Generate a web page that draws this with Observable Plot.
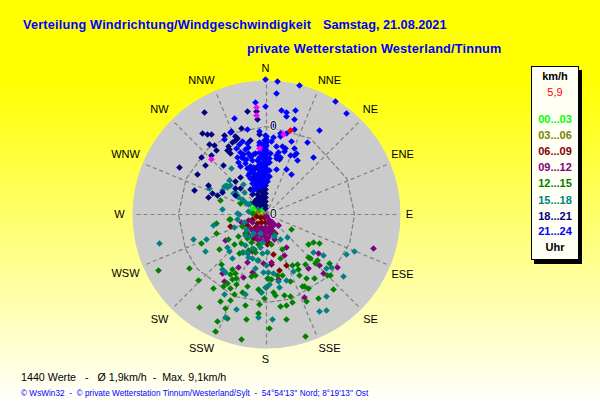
<!DOCTYPE html>
<html><head><meta charset="utf-8">
<script src="https://cdn.jsdelivr.net/npm/d3@7"></script>
<script src="https://cdn.jsdelivr.net/npm/@observablehq/plot@0.6"></script>
<style>
html,body{margin:0;padding:0}
body{width:600px;height:415px;position:relative;overflow:hidden;font-family:"Liberation Sans",Arial,sans-serif;
background:linear-gradient(#ffff00 0,#ffff00 80px,#ffffff 405px)}
svg{position:absolute;left:0;top:0;background:transparent!important}
.t{position:absolute;white-space:pre;line-height:1}
.title{color:#0000ff;font-weight:bold;font-size:12.7px;letter-spacing:.2px}
#legend{position:absolute;left:531px;top:66px;width:46px;height:192px;background:#fffff4;border:1px solid #000;box-shadow:3px 4px 0 #000}
#legend div{position:absolute;left:0;width:46px;text-align:center;font-size:11px;font-weight:bold;line-height:1}
</style></head><body>
<script>
// Wind readings as [eastward, northward] components in picture units (14.7 units = 1 km/h)
const h00_03=[[-13,6],[-6,4],[-3,5],[-9,1],[-10,7],[-4,10],[-7,8],[-15,3]];
const h03_06=[[-3,-1],[-8,3],[-12,1],[-5,-4]];
const h06_09=[[-36,-12],[-21,-19],[-14,-6],[1,-30],[-9,-9],[-19,-11],[20,-51],[13,-56],[7,-40],[5,-50],[2,-16],[-14,-5],[-10,-2],[-6,-3],[-5,-8],[-2,-3],[-11,-13],[-1,-8],[3,-9],[-7,-14],[-3,-16],[-13,-24],[2,-28],[-5,-20],[0,-14]];
const h09_12=[[-41,-26],[-42,-67],[-44,-59],[-28,-53],[-23,-63],[-19,-48],[-14,-58],[-3,-49],[-14,-37],[-25,-8],[-19,-19],[-11,-18],[107,-34],[12,-11],[20,-33],[18,-41],[52,-39],[53,-51],[42,-54],[57,-59],[71,-53],[38,-83],[5,-48],[12,-65],[7,-9],[4,-6],
[0,-2],[3,-4],[-14,-8],[2,-7],[5,-8],[4,-12],[7,-11],[-9,-14],[-5,-13],[-1,-13],[3,-15],[6,-16],[-13,-17],[-8,-17],[-4,-17],[0,-18],[4,-19],[-11,-21],[-6,-21],[-2,-22],[2,-23],[-9,-25],[-5,-26],[0,-26],[12,-11],[9,-19],[-16,-14],[-18,-6],[8,-25]];
const h12_15=[[-46,14],[-36,-5],[-26,11],[-13,12],[-14,1],[-50,-9],[-50,-19],[-37,-5],[-65,-29],[-47,-35],[-38,-25],[-32,-30],[-108,-56],[-77,-54],[-68,-66],[-45,-50],[-34,-55],[-31,-59],[-36,-60],[-34,-65],[-30,-64],[-53,-74],[-43,-72],[-39,-69],[-36,-74],[-30,-70],[-32,-80],[-24,-78],[-19,-72],[-8,-75],[-2,-84],[-46,-87],[-36,-86],[-67,-93],[-41,-94],[-21,-91],[-7,-90],[-8,-99],[-49,-107],[-39,-104],[-20,-105],[-51,-117],[-25,-125],[3,-114],[-27,-39],[-24,-38],[-18,-36],[-11,-38],[-8,-46],[-15,-62],[-11,-61],[1,-64],[0,-73],[-19,-24],[-25,-29],
[25,-15],[42,-30],[47,-28],[53,-29],[16,-35],[42,-43],[44,-44],[14,-44],[26,-51],[31,-50],[39,-50],[63,-49],[51,-46],[49,-49],[32,-55],[33,-61],[40,-64],[48,-64],[61,-61],[64,-61],[24,-67],[2,-64],[5,-65],[11,-61],[16,-61],[36,-72],[38,-72],[42,-74],[67,-75],[7,-78],[9,-81],[18,-81],[24,-82],[40,-87],[52,-84],[26,-88],[20,-91],[14,-92],[20,-105],[39,-122],[-5,-78],
[-20,-18],[-24,-12],[-15,-28],[-8,-30],[5,-30],[-12,-35],[-28,-22],[8,-20]];
const h15_18=[[-35,46],[-37,34],[-40,29],[-44,24],[-36,29],[-31,22],[-23,30],[-57,26],[-44,5],[-29,1],[-33,21],[-28,17],[-21,12],[-22,22],[-16,11],[-8,7],[-4,17],[-39,27],[-42,28],[-29,19],[-24,15],[-18,10],
[-53,-11],[-32,-13],[-107,-29],[-73,-25],[-60,-25],[-61,-37],[-39,-33],[-37,-37],[-34,-44],[-44,-55],[-41,-58],[-42,-80],[-30,-95],[-41,-103],[-8,-103],[-21,-80],[-5,-78],[-23,-38],[-19,-39],[-14,-44],[-9,-46],[-4,-39],[1,-38],[-6,-33],[-14,-34],[-18,-43],[-3,-58],[0,-51],[-11,-54],[-21,-31],[-29,-5],[-21,-21],[-13,-19],[-4,-28],[-6,-19],
[21,-23],[8,-22],[14,-25],[47,-38],[57,-41],[88,-37],[80,-40],[65,-53],[60,-54],[27,-57],[77,-62],[20,-66],[12,-67],[7,-59],[2,-58],[13,-73],[-1,-73],[3,-70],[60,-82],[53,-97],[60,-96],[6,-105],[-18,3],[-22,-8],[-16,-22],[-27,0],[-20,-15]];
const h18_21=[[-62,102],[-19,103],[-25,86],[-35,83],[-64,81],[-59,80],[-55,80],[-42,79],[-31,78],[-29,76],[-31,74],[-34,72],[-57,70],[-52,69],[-50,64],[-38,68],[-37,65],[-39,64],[-36,61],[-55,59],[-65,57],[-61,49],[-87,47],[-43,49],[-69,40],[-9,95],[-10,103],[-7,80],[-16,74],[-26,37],[-31,33],[-58,29],[-72,24],[-58,17],[-54,21],[-49,19],[-44,22],[-31,26],[-26,26],[-31,19],[13,55],
[-8,33],[-4,31],[-1,29],[-12,30],[-5,27],[-1,25],[-8,24],[-4,22],[-1,21],[-14,20],[-9,20],[-5,18],[-1,17],[-4,14],[-1,13],[-7,13],[-3,10],[-1,9],[-6,9],[-1,6],[-10,15],[-16,25],[-1,34],[-4,37],[-7,40],[-12,38],[-3,19],[-7,17],[-10,10],[-12,12]];
const h21_24=[[-1,135],[-11,112],[-32,96],[-19,85],[-36,82],[-42,75],[-7,83],[-1,79],[-19,71],[-18,67],[-21,65],[-26,62],[-18,61],[-29,57],[-23,56],[-28,52],[-21,51],[-14,54],[-9,54],[-26,48],[-19,46],[-13,47],[-8,49],[-14,42],[-9,39],[-18,39],[-13,34],[-6,36],[-4,44],[-7,57],[-7,52],[-7,72],[-7,69],[-11,61],[-7,62],[-2,74],[-1,71],[-1,67],[-1,62],[-1,57],[-1,52],[-1,47],[-1,42],[-1,37],[-3,32],[-6,29],[-9,27],[-13,24],
[11,133],[33,129],[10,121],[69,113],[80,101],[-1,108],[15,104],[29,104],[20,102],[20,98],[28,95],[7,89],[28,85],[53,84],[14,81],[14,78],[20,81],[7,77],[5,73],[25,73],[41,72],[10,68],[16,68],[19,66],[28,66],[18,63],[12,62],[10,59],[4,61],[24,59],[30,61],[28,59],[47,57],[31,54],[10,56],[14,57],[3,56],[3,52],[3,44],[10,45],[20,45],[25,40],[3,38],[1,33],
[0,78],[0,75],[0,72],[0,69],[0,64],[0,60],[0,55],[0,50],[0,45],[0,40],[0,35],[-7,48],[-7,46],[-7,44],[-7,42],[-7,40],[-7,38],[-7,34],[-7,32],
[-16,48],[-15,44],[-11,46],[-17,41],[-12,41],[-16,36],[-11,36],[-6,40],[-4,38],[-14,31],[-10,31],[-5,33],[-3,29],[-8,30],[-12,27],[-7,27],[-2,35],[-3,40],[-4,47],[-4,50],[-3,55],[-4,60],[-3,65],[-3,70],[-30,66],[-27,70],[-24,73],[-23,60],[-25,57],[-20,55],[-16,58],[-13,60]];
const peakGusts=[[-10,107],[-10,99],[-7,66],[-55,55],[17,80]];
const currentWind=[[24,84]];

const unitsPerKmh=14.7, maxKmh=134/unitsPerKmh;
const ringKmh=88/unitsPerKmh, spokeKmh=132/unitsPerKmh;
const compass=["N","NNE","NE","ENE","E","ESE","SE","SSE","S","SSW","SW","WSW","W","WNW","NW","NNW"];
const compassEast=[-1,63,104,136,143,136,104,63,-1,-65,-107,-141,-147,-141,-107,-65];
const compassNorth=[146,134,105,60,0,-60,-105,-134,-145,-134,-105,-59,0,60,105,134];
const ringBearings=[0,30,66,90,109,134,163,180,202,232,247,270,294,318,338,360];
const seriesList=[h00_03,h03_06,h06_09,h09_12,h12_15,h15_18,h18_21,h21_24];
const seriesColors=["#00ff00","#808000","#800000","#800080","#008000","#008080","#000080","#0000ff"];
const legendLabels=["00...03","03...06","06...09","09...12","12...15","15...18","18...21","21...24"];

const polar=(deg,k)=>({e:k*Math.sin(deg*Math.PI/180),n:k*Math.cos(deg*Math.PI/180)});
const toRows=a=>a.map(([e,n])=>({e:e/unitsPerKmh,n:n/unitsPerKmh}));
const compassRows=compass.map((name,i)=>({name,e:compassEast[i]/unitsPerKmh,n:compassNorth[i]/unitsPerKmh}));
const spokes=compass.map((name,i)=>({x1:0,y1:0,...polar(i*22.5,spokeKmh)}));
const ring=ringBearings.map(b=>polar(b,ringKmh));
const zeroLabels=[{e:.46,n:ringKmh,t:"0"},{e:.46,n:0,t:"0"}];
const dotOpts={x:"e",y:"n",symbol:"diamond2",r:3,strokeWidth:0};

const chart=Plot.plot({
  width:600,height:415,margin:0,style:{background:"transparent"},
  x:{domain:[-maxKmh,maxKmh],range:[132,400],axis:null},
  y:{domain:[-maxKmh,maxKmh],range:[348,80],axis:null},
  marks:[
    Plot.dot([{e:0,n:0}],{x:"e",y:"n",r:134,fill:"#cbcbcb",stroke:"none"}),
    Plot.link(spokes,{x1:"x1",y1:"y1",x2:"e",y2:"n",stroke:"#808080",strokeWidth:1.2,strokeDasharray:"4 3"}),
    Plot.line(ring,{x:"e",y:"n",stroke:"#808080",strokeWidth:1.2,strokeDasharray:"4 3"}),
    ...seriesList.map((s,i)=>Plot.dot(toRows(s),{...dotOpts,fill:seriesColors[i]})),
    Plot.dot(toRows(peakGusts),{...dotOpts,fill:"#ff00ff"}),
    Plot.dot(toRows(currentWind),{...dotOpts,fill:"#ff0000"}),
    Plot.text(zeroLabels,{x:"e",y:"n",text:"t",fontSize:12,fill:"#000",stroke:"#e8e8e8",strokeWidth:2,fontFamily:"Liberation Sans"}),
    Plot.text(compassRows,{x:"e",y:"n",text:"name",fontSize:11,fill:"#000",fontFamily:"Liberation Sans"})
  ]
});
document.body.appendChild(chart);

function addText(txt,left,top,cls,style){
  const d=document.createElement("div");d.className="t "+(cls||"");d.textContent=txt;
  d.style.left=left+"px";d.style.top=top+"px";Object.assign(d.style,style||{});document.body.appendChild(d);
}
addText("Verteilung Windrichtung/Windgeschwindigkeit",23,19,"title");
addText("Samstag, 21.08.2021",323,19,"title",{letterSpacing:"0"});
addText("private Wetterstation Westerland/Tinnum",247,43,"title");
addText("1440 Werte   -   Ø 1,9km/h  -  Max. 9,1km/h",21,372,"",{fontSize:"10.7px",color:"#000"});
addText("© WsWin32  -  © private Wetterstation Tinnum/Westerland/Sylt  -  54°54'13'' Nord; 8°19'13'' Ost",21,390,"",{fontSize:"8.2px",color:"#0000ff",letterSpacing:".03px"});

const lg=document.createElement("div");lg.id="legend";document.body.appendChild(lg);
function addLeg(txt,top,color,weight){
  const d=document.createElement("div");d.textContent=txt;d.style.top=top+"px";d.style.color=color;
  if(weight)d.style.fontWeight=weight;lg.appendChild(d);
}
addLeg("km/h",4,"#000");
addLeg("5,9",20,"#ff0000","normal");
const legendTops=[47,63,79,95,111,128,144,159];
legendLabels.forEach((l,i)=>addLeg(l,legendTops[i],seriesColors[i]));
addLeg("Uhr",175,"#000");
</script>
</body></html>
